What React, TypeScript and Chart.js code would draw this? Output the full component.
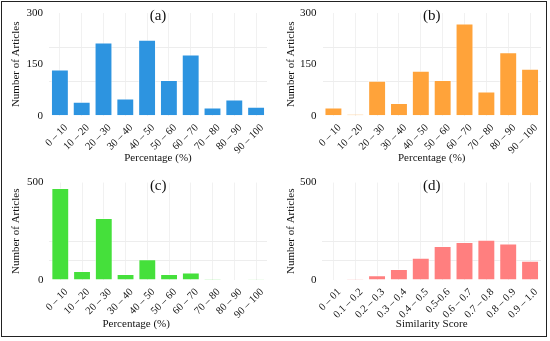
import React, { useEffect, useRef } from 'react';
import { Chart, registerables } from 'chart.js';

Chart.register(...registerables);

const FONT = '"Liberation Serif", "Times New Roman", serif';

const percentCategories = ['0 – 10', '10 – 20', '20 – 30', '30 – 40', '40 – 50', '50 – 60', '60 – 70', '70 – 80', '80 – 90', '90 – 100'];
const similarityCategories = ['0 – 01', '0.1 – 0.2', '0.2 – 0.3', '0.3 – 0.4', '0.4 – 0.5', '0.5-0.6', '0.6 – 0.7', '0.7 – 0.8', '0.8 – 0.9', '0.9 – 1.0'];

const seriesA = [135, 41, 214, 50, 222, 104, 179, 24, 47, 26];
const seriesB = [24, 4, 102, 37, 131, 104, 269, 71, 185, 137];
const seriesC = [472, 46, 318, 31, 107, 31, 39, 5, 2, 1];
const seriesD = [2, 5, 25, 56, 114, 175, 195, 206, 188, 99];

const textPlugin = {
  id: 'panelText',
  afterDraw(chart: any, _args: any, opts: any) {
    const { ctx, chartArea } = chart;
    const cx = (chartArea.left + chartArea.right) / 2;
    ctx.save();
    ctx.fillStyle = '#111';
    ctx.textAlign = 'center';
    ctx.textBaseline = 'middle';
    ctx.font = `15px ${FONT}`;
    ctx.fillText(opts.tag, cx, opts.tagY);
    ctx.font = `11px ${FONT}`;
    ctx.fillText(opts.xTitle, cx + opts.xTitleDx, opts.xTitleY);
    ctx.restore();
  },
};

type PanelProps = {
  labels: string[];
  data: number[];
  color: string;
  yMax: number;
  labelEvery: number;
  xTitle: string;
  tag: string;
  left: number;
  top: number;
  width: number;
  height: number;
  yAxisWidth: number;
  padTop: number;
  padRight: number;
  xAxisHeight: number;
  tagY: number;
  xTitleY: number;
  xTitleDx: number;
};

function Panel(p: PanelProps) {
  const ref = useRef<HTMLCanvasElement>(null);
  useEffect(() => {
    if (!ref.current) return;
    const chart = new Chart(ref.current, {
      type: 'bar',
      data: {
        labels: p.labels,
        datasets: [
          {
            data: p.data,
            backgroundColor: p.color,
            borderColor: 'rgba(255,255,255,0.55)',
            borderWidth: 1,
            barPercentage: 0.82,
            categoryPercentage: 1,
          },
        ],
      },
      plugins: [textPlugin],
      options: {
        responsive: false,
        animation: false,
        devicePixelRatio: 1,
        layout: { padding: { top: p.padTop, right: p.padRight, left: 0, bottom: 0 } },
        plugins: {
          legend: { display: false },
          tooltip: { enabled: false },
          panelText: { tag: p.tag, tagY: p.tagY, xTitle: p.xTitle, xTitleY: p.xTitleY, xTitleDx: p.xTitleDx },
        } as any,
        scales: {
          x: {
            grid: { offset: false, color: '#f1f1f1', drawTicks: false, lineWidth: 1 },
            border: { display: false },
            ticks: {
              autoSkip: false,
              minRotation: 45,
              maxRotation: 45,
              padding: 6,
              labelOffset: 6,
              color: '#111',
              font: { family: FONT, size: 10.5 },
            },
            title: { display: false },
            afterFit: (scale: any) => {
              scale.height = p.xAxisHeight;
            },
          },
          y: {
            min: 0,
            max: p.yMax,
            grid: {
              drawTicks: false,
              color: (ctx: any) =>
                ctx.tick && (ctx.tick.value === 100 || ctx.tick.value === 200) ? '#ededed' : 'rgba(0,0,0,0)',
            },
            border: { display: false },
            ticks: {
              stepSize: 50,
              padding: 6,
              color: '#111',
              font: { family: FONT, size: 11 },
              callback: (v: any) => (Number(v) % p.labelEvery === 0 ? String(v) : ''),
            },
            title: {
              display: true,
              text: 'Number of Articles',
              color: '#111',
              font: { family: FONT, size: 11 },
              padding: { top: 10, bottom: 0 },
            },
            afterFit: (scale: any) => {
              scale.width = p.yAxisWidth;
            },
          },
        },
      } as any,
    });
    return () => chart.destroy();
  }, []);
  return (
    <canvas
      ref={ref}
      width={p.width}
      height={p.height}
      style={{ position: 'absolute', left: p.left, top: p.top, width: p.width, height: p.height, display: 'block' }}
    />
  );
}

export default function App() {
  useEffect(() => {
    document.body.style.margin = '0';
  }, []);
  return (
    <div style={{ position: 'fixed', left: 0, top: 0, width: 550, height: 341, background: '#fff', overflow: 'hidden' }}>
      <Panel labels={percentCategories} data={seriesA} color="#2D94E0" yMax={300} labelEvery={150}
        xTitle="Percentage (%)" tag="(a)" left={0} top={0} width={275} height={170}
        yAxisWidth={49} padTop={13} padRight={8} xAxisHeight={54.3} tagY={16} xTitleY={158} xTitleDx={0} />
      <Panel labels={percentCategories} data={seriesB} color="#FFA33A" yMax={300} labelEvery={150}
        xTitle="Percentage (%)" tag="(b)" left={275} top={0} width={275} height={170}
        yAxisWidth={47.5} padTop={13} padRight={9} xAxisHeight={54.3} tagY={16} xTitleY={158} xTitleDx={0} />
      <Panel labels={percentCategories} data={seriesC} color="#45E03B" yMax={500} labelEvery={250}
        xTitle="Percentage (%)" tag="(c)" left={0} top={170} width={275} height={171}
        yAxisWidth={49.4} padTop={7.5} padRight={8} xAxisHeight={61} tagY={16} xTitleY={154} xTitleDx={-22} />
      <Panel labels={similarityCategories} data={seriesD} color="#FF7F7F" yMax={500} labelEvery={250}
        xTitle="Similarity Score" tag="(d)" left={275} top={170} width={275} height={171}
        yAxisWidth={47.4} padTop={7.5} padRight={9} xAxisHeight={61} tagY={16} xTitleY={154} xTitleDx={0} />
      <div style={{ position: 'absolute', left: 1, top: 1, width: 546, height: 336, border: '1.5px solid #222', boxSizing: 'border-box', pointerEvents: 'none' }} />
    </div>
  );
}
